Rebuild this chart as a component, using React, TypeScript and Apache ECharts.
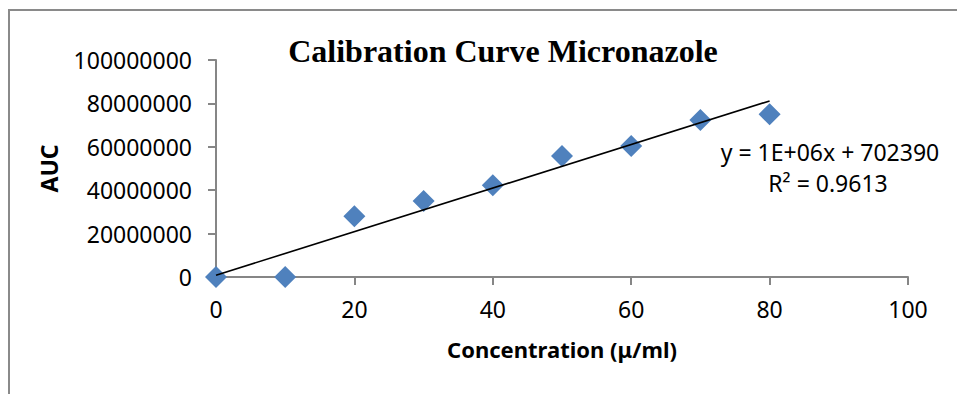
import React, { useEffect, useRef } from "react";
import * as echarts from "echarts";

const concentrations = [0, 10, 20, 30, 40, 50, 60, 70, 80];
const aucValues = [0, 0, 28000000, 35000000, 42300000, 55800000, 60400000, 72300000, 75000000];
const titleText = "Calibration Curve Micronazole";
const xAxisName = "Concentration (μ/ml)";
const yAxisName = "AUC";
const equationText = "y = 1E+06x + 702390";
const r2Text = "R² = 0.9613";

function linearFit(xs: number[], ys: number[]) {
  const n = xs.length;
  const mx = xs.reduce((a, b) => a + b, 0) / n;
  const my = ys.reduce((a, b) => a + b, 0) / n;
  let sxy = 0;
  let sxx = 0;
  for (let i = 0; i < n; i++) {
    sxy += (xs[i] - mx) * (ys[i] - my);
    sxx += (xs[i] - mx) * (xs[i] - mx);
  }
  const slope = sxy / sxx;
  return { slope, intercept: my - slope * mx };
}

export default function App() {
  const ref = useRef<HTMLDivElement>(null);
  useEffect(() => {
    if (!ref.current) return;
    const chart = echarts.init(ref.current, undefined, { renderer: "svg" });
    const fit = linearFit(concentrations, aucValues);
    const x0 = concentrations[0];
    const x1 = concentrations[concentrations.length - 1];
    const trend = [
      [x0, fit.intercept + fit.slope * x0],
      [x1, fit.intercept + fit.slope * x1],
    ];
    const sans = "Noto Sans";
    chart.setOption({
      animation: false,
      backgroundColor: "#ffffff",
      title: {
        text: titleText,
        left: 498,
        top: 30,
        textAlign: "center",
        textStyle: {
          fontFamily: "Liberation Serif",
          fontWeight: "bold",
          fontSize: 32,
          color: "#000",
        },
      },
      graphic: [
        {
          type: "rect",
          shape: { x: 9, y: 10, width: 1000, height: 500 },
          style: { fill: "none", stroke: "#8a8a8a", lineWidth: 2 },
          silent: true,
        },
        {
          type: "text",
          x: 830,
          y: 152,
          style: {
            text: equationText,
            fontFamily: sans,
            fontSize: 23,
            fill: "#000",
            align: "center",
            verticalAlign: "middle",
          },
        },
        {
          type: "text",
          x: 828,
          y: 183,
          style: {
            text: r2Text,
            fontFamily: sans,
            fontSize: 23,
            fill: "#000",
            align: "center",
            verticalAlign: "middle",
          },
        },
      ],
      grid: { left: 216, right: 49, top: 60, bottom: 117, containLabel: false },
      xAxis: {
        type: "value",
        min: 0,
        max: 100,
        interval: 20,
        name: xAxisName,
        nameLocation: "middle",
        nameGap: 61,
        nameTextStyle: { fontFamily: sans, fontWeight: "bold", fontSize: 22, color: "#000" },
        axisLine: { show: true, lineStyle: { color: "#868686", width: 2 } },
        axisTick: { show: true, length: 8, lineStyle: { color: "#868686", width: 2 } },
        axisLabel: { fontFamily: sans, fontSize: 23, color: "#000", margin: 20 },
        splitLine: { show: false },
      },
      yAxis: {
        type: "value",
        min: 0,
        max: 100000000,
        interval: 20000000,
        name: yAxisName,
        nameLocation: "middle",
        nameGap: 156,
        nameRotate: 90,
        nameTextStyle: { fontFamily: sans, fontWeight: "bold", fontSize: 23, color: "#000" },
        axisLine: { show: true, lineStyle: { color: "#868686", width: 2 } },
        axisTick: { show: true, length: 8, lineStyle: { color: "#868686", width: 2 } },
        axisLabel: {
          fontFamily: sans,
          fontSize: 23,
          color: "#000",
          margin: 24,
          formatter: (v: number) => String(v),
        },
        splitLine: { show: false },
      },
      series: [
        {
          type: "line",
          data: trend,
          showSymbol: false,
          symbol: "none",
          lineStyle: { color: "#000", width: 1.6 },
          z: 3,
          silent: true,
        },
        {
          type: "scatter",
          data: concentrations.map((x, i) => [x, aucValues[i]]),
          symbol: "diamond",
          symbolSize: [22, 22],
          itemStyle: { color: "#4F81BD", opacity: 1 },
          z: 2,
        },
      ],
    });
    return () => chart.dispose();
  }, []);
  return (
    <div
      ref={ref}
      style={{ position: "fixed", left: 0, top: 0, width: 957, height: 394 }}
    />
  );
}
